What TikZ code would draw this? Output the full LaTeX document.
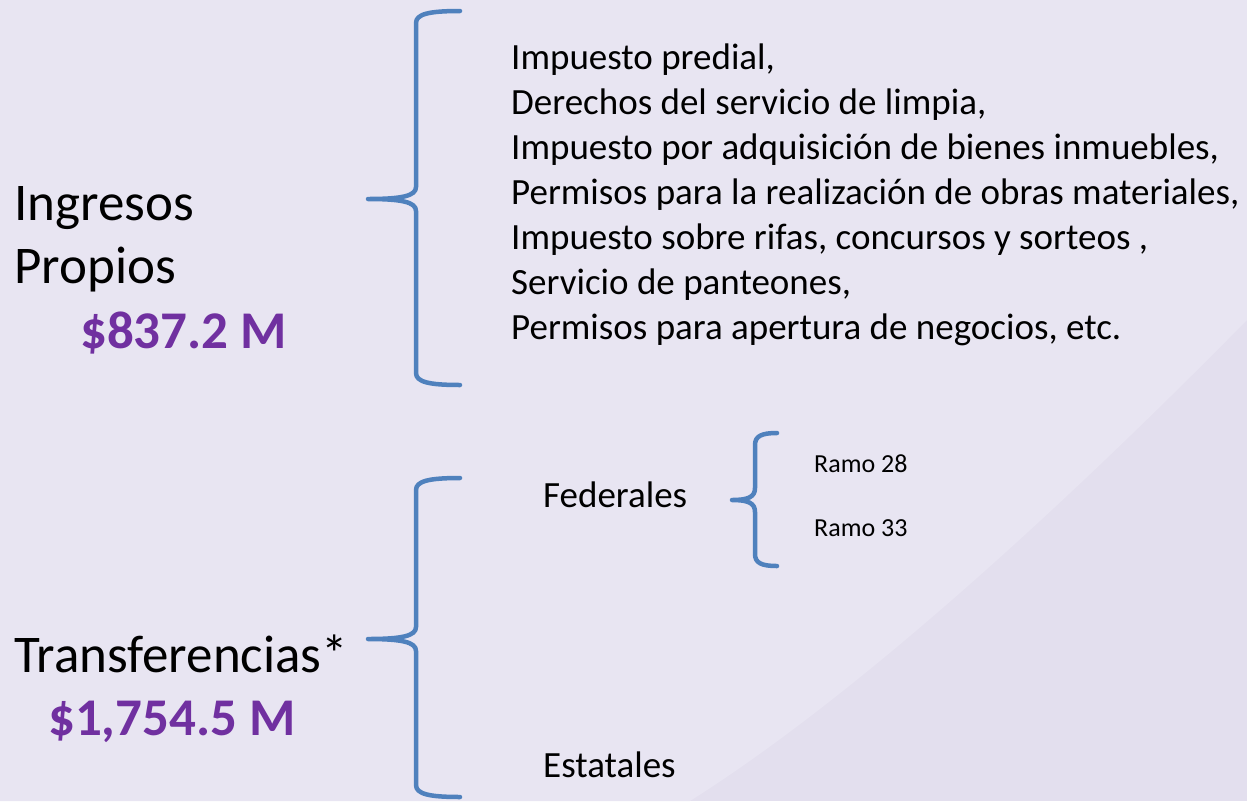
\documentclass[tikz,border=0pt]{standalone}
\usepackage{fontspec}
\setmainfont{Carlito}
\definecolor{fondo}{HTML}{E3DFEE}
\definecolor{fondoclaro}{HTML}{E8E5F2}
\definecolor{llaveazul}{HTML}{4F81BD}
\definecolor{monto}{HTML}{7030A0}
% llave: x de la recta, arriba, medio, abajo, x de la punta, x de los extremos
\newcommand{\llave}[6]{%
  \draw[llavelinea] (#6,#2) .. controls ({#1+0.3*(#6-#1)},#2) and (#1,{#2+3}) .. (#1,{#2+12})
    -- (#1,{#3-12}) .. controls (#1,{#3-3}) and ({#1-0.3*(#1-#5)},#3) .. (#5,#3)
    .. controls ({#1-0.3*(#1-#5)},#3) and (#1,{#3+3}) .. (#1,{#3+12})
    -- (#1,{#4-12}) .. controls (#1,{#4-3}) and ({#1+0.3*(#6-#1)},#4) .. (#6,#4);}
\begin{document}
\begin{tikzpicture}[
    x=1pt, y=-1pt,
    llavelinea/.style={draw=llaveazul, line width=4.5pt, line cap=round, line join=round},
    titulo/.style={anchor=base west, inner sep=0pt, align=left, font=\fontsize{53}{63}\selectfont},
    cifra/.style={anchor=base west, inner sep=0pt, text=monto, font=\fontsize{53}{63}\selectfont\bfseries},
    lista/.style={anchor=base west, inner sep=0pt, align=left, font=\fontsize{37}{45}\selectfont},
    rubro/.style={anchor=base west, inner sep=0pt, font=\fontsize{37}{44}\selectfont},
    ramo/.style={anchor=base west, inner sep=0pt, font=\fontsize{26}{30}\selectfont}
  ]
  % fondo
  \fill[fondo] (0,0) rectangle (1247,801);
  \fill[fondoclaro] (0,0) -- (1247,0) -- (1247,320) .. controls (1050,520) and (850,700) .. (690,801)
    -- (0,801) -- cycle;
  \useasboundingbox (0,0) rectangle (1247,801);

  % ingresos propios
  \node[titulo] (propios) at (14,283) {Ingresos\\Propios};
  \node[cifra] (montopropios) at (80,348) {\$837.2 M};
  \node[lista] (conceptos) at (511,339) {Impuesto predial,\\
    Derechos del servicio de limpia,\\
    Impuesto por adquisición de bienes inmuebles,\\
    Permisos para la realización de obras materiales,\\
    Impuesto sobre rifas, concursos y sorteos ,\\
    Servicio de panteones,\\
    Permisos para apertura de negocios, etc.};

  % transferencias
  \node[titulo] (transf) at (14,672) {Transferencias*};
  \node[cifra] (montotransf) at (48,735) {\$1,754.5 M};
  \node[rubro] (federales) at (543,507) {Federales};
  \node[rubro] (estatales) at (543,777) {Estatales};
  \node[ramo] (ramo28) at (814,472) {Ramo 28};
  \node[ramo] (ramo33) at (814,536) {Ramo 33};

  % llaves
  \llave{416}{11}{199}{385}{368}{460}
  \llave{416}{478}{639}{797}{368}{460}
  \llave{755}{433}{500}{566}{732}{777}
\end{tikzpicture}
\end{document}
